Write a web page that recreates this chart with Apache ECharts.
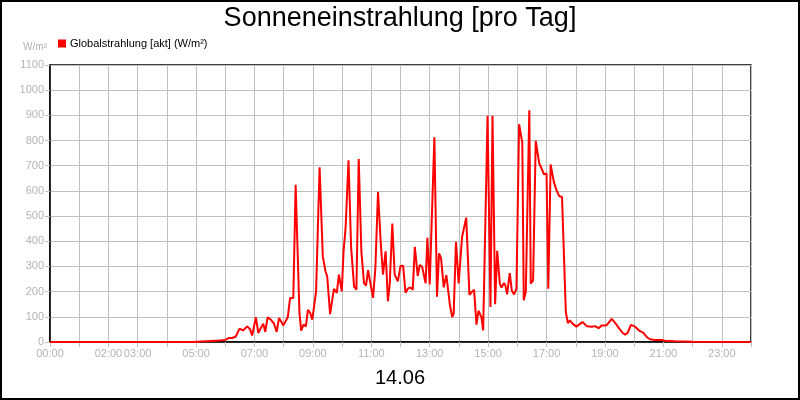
<!DOCTYPE html>
<html>
<head>
<meta charset="utf-8">
<title>Sonneneinstrahlung</title>
<script src="https://cdn.jsdelivr.net/npm/echarts/dist/echarts.min.js"></script>
<style>
  html, body { margin: 0; padding: 0; background: #fff; }
  #chart { width: 800px; height: 400px; }
</style>
</head>
<body>
<div id="chart"></div>
<script>
// time of day in hours
const hours = [
  0, 4.9, 5.2, 5.5, 5.8, 6.0, 6.13, 6.24, 6.36, 6.49, 6.61, 6.67, 6.75, 6.84, 6.92,
  7.05, 7.13, 7.22, 7.30, 7.37, 7.45, 7.56, 7.67, 7.76, 7.84, 7.91, 7.99,
  8.14, 8.22, 8.33, 8.41, 8.46, 8.54, 8.60, 8.68, 8.76, 8.83, 8.91, 8.98,
  9.11, 9.23, 9.34, 9.43, 9.49, 9.59, 9.63, 9.72, 9.78, 9.82, 9.89, 9.94, 9.99,
  10.05, 10.12, 10.22, 10.31, 10.41, 10.49, 10.57, 10.66, 10.75, 10.82, 10.89, 10.94,
  11.06, 11.14, 11.23, 11.32, 11.40, 11.49, 11.57, 11.63, 11.72, 11.80, 11.91,
  12.0, 12.09, 12.17, 12.26, 12.34, 12.42, 12.49, 12.59, 12.66, 12.74, 12.80, 12.86, 12.92,
  13.0, 13.16, 13.25, 13.32, 13.39, 13.48, 13.57, 13.69, 13.77, 13.82, 13.90, 13.99,
  14.11, 14.25, 14.36, 14.45, 14.52, 14.60, 14.67, 14.72, 14.77, 14.83, 14.98,
  15.08, 15.15, 15.24, 15.31, 15.40, 15.46, 15.54, 15.59, 15.65, 15.74, 15.81, 15.89, 15.97,
  16.06, 16.17, 16.22, 16.29, 16.41, 16.46, 16.54, 16.63, 16.75, 16.83, 16.91,
  17.0, 17.06, 17.14, 17.25, 17.34, 17.43, 17.53, 17.59, 17.66, 17.73, 17.80, 17.89,
  18.02, 18.23, 18.38, 18.55, 18.66, 18.78, 18.89,
  19.06, 19.23, 19.35, 19.49, 19.60, 19.69, 19.78, 19.89,
  20.03, 20.20, 20.31, 20.43, 20.54, 20.71, 20.94, 21.06, 21.40, 22.0, 24.0
];

// Globalstrahlung [akt] in W/m²
const radiation = [
  0, 0, 2, 4, 6, 8, 16, 16, 22, 53, 46, 40, 62, 53, 26,
  98, 36, 56, 73, 40, 98, 89, 73, 40, 95, 82, 66,
  98, 175, 175, 624, 624, 115, 45, 69, 62, 128, 115, 89,
  201, 694, 340, 281, 261, 111, 109, 211, 215, 195, 268, 268, 201,
  360, 453, 722, 374, 221, 208, 727, 360, 234, 224, 285, 281,
  175, 294, 596, 400, 268, 360, 162, 228, 470, 268, 241,
  302, 303, 196, 213, 217, 207, 378, 262, 306, 299, 292, 233, 414,
  229, 813, 180, 352, 332, 217, 266, 148, 99, 112, 398, 233,
  418, 494, 187, 200, 207, 69, 124, 119, 99, 46, 898,
  139, 898, 150, 362, 232, 216, 234, 225, 189, 274, 205, 189, 212,
  865, 791, 166, 199, 920, 232, 245, 799, 709, 689, 666,
  669, 212, 705, 636, 603, 580, 576, 579, 119, 75, 86, 73,
  61, 79, 63, 61, 63, 55, 66,
  67, 92, 76, 53, 37, 29, 37, 68,
  61, 43, 37, 20, 11, 8, 8, 5, 3, 1, 0
];

// hours that carry a label on the time axis
const labelHours = [0, 2, 3, 5, 7, 9, 11, 13, 15, 17, 19, 21, 23];

const fontFamily = '"Liberation Sans", Arial, sans-serif';
const labelGray = '#b4b4b4';
const gridGray = '#c0c0c0';

const chart = echarts.init(document.getElementById('chart'), null, { renderer: 'canvas' });

const option = {
  animation: false,
  backgroundColor: '#fff',
  textStyle: { fontFamily: fontFamily },
  title: [
    {
      text: 'Sonneneinstrahlung [pro Tag]',
      left: 'center',
      top: 5,
      padding: 0,
      textStyle: { fontSize: 27, fontWeight: 'normal', color: '#000', fontFamily: fontFamily }
    },
    {
      text: '14.06',
      left: 'center',
      top: 368,
      padding: 0,
      textStyle: { fontSize: 20, fontWeight: 'normal', color: '#000', fontFamily: fontFamily }
    }
  ],
  legend: {
    left: 58,
    top: 38,
    padding: 0,
    itemWidth: 8,
    itemHeight: 8,
    itemGap: 4,
    icon: 'rect',
    textStyle: { fontSize: 11, color: '#000', padding: [0, 0, 0, -1] },
    data: ['Globalstrahlung [akt] (W/m²)']
  },
  grid: {
    left: 50,
    right: 49,
    top: 65,
    bottom: 58,
    show: true,
    borderColor: '#000',
    borderWidth: 1.5
  },
  xAxis: {
    type: 'value',
    min: 0,
    max: 24,
    interval: 1,
    axisLine: { lineStyle: { color: '#000', width: 1.5 } },
    axisTick: { length: 5, lineStyle: { color: gridGray } },
    axisLabel: {
      color: labelGray,
      fontSize: 11,
      margin: 6,
      formatter: function (v) {
        if (labelHours.indexOf(v) < 0) return '';
        return (v < 10 ? '0' : '') + v + ':00';
      }
    },
    splitLine: { show: true, lineStyle: { color: gridGray, width: 1 } }
  },
  yAxis: {
    type: 'value',
    min: 0,
    max: 1100,
    interval: 100,
    name: 'W/m²',
    nameLocation: 'end',
    nameGap: 13,
    nameTextStyle: { color: labelGray, fontSize: 10, align: 'right', padding: [0, 3, 0, 0] },
    axisLine: { show: true, lineStyle: { color: '#000', width: 1.5 } },
    axisTick: { show: true, length: 5, lineStyle: { color: gridGray } },
    axisLabel: {
      color: labelGray,
      fontSize: 11,
      margin: 6,
      formatter: function (v) { return String(v); }
    },
    splitLine: { show: true, lineStyle: { color: gridGray, width: 1 } }
  },
  series: [
    {
      name: 'Globalstrahlung [akt] (W/m²)',
      type: 'line',
      showSymbol: false,
      symbol: 'none',
      color: '#ff0000',
      lineStyle: { color: '#ff0000', width: 2 },
      data: hours.map((h, i) => [h, radiation[i]])
    }
  ],
  graphic: [
    {
      type: 'rect',
      shape: { x: 1, y: 1, width: 798, height: 398 },
      style: { fill: 'none', stroke: '#000', lineWidth: 2 },
      silent: true
    }
  ]
};

chart.setOption(option);
</script>
</body>
</html>
